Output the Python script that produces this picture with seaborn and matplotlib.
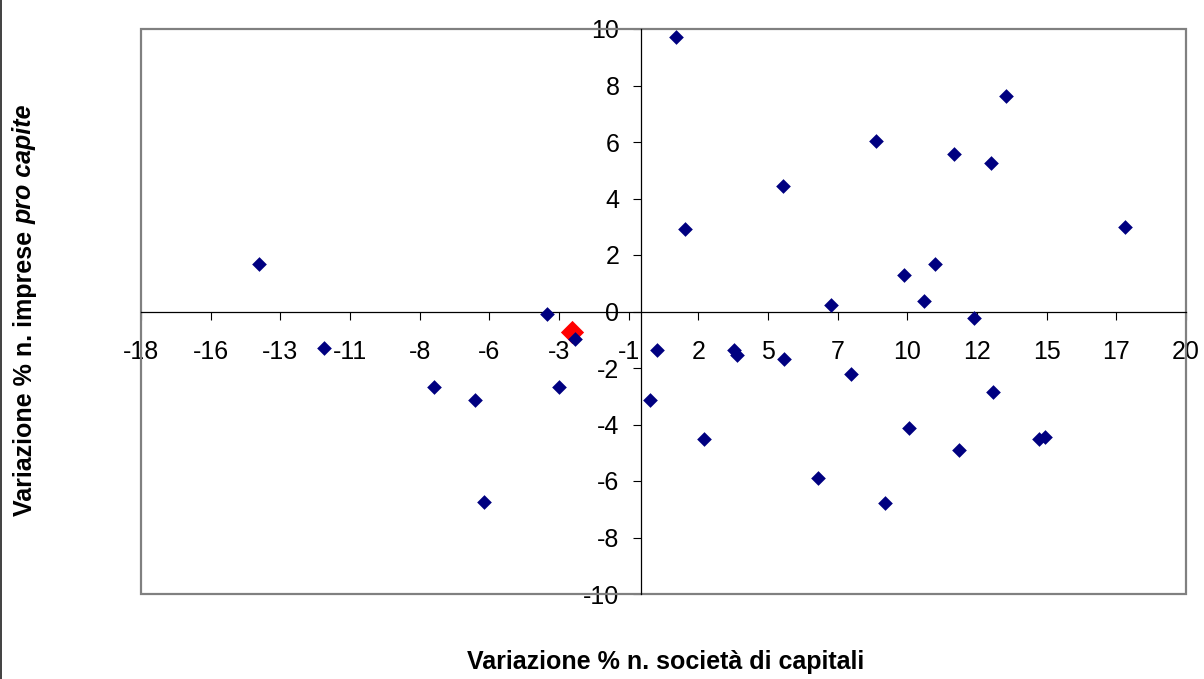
import numpy as np
import pandas as pd
import matplotlib
matplotlib.use("Agg")
import matplotlib.pyplot as plt
import seaborn as sns
from matplotlib.patches import Rectangle
from matplotlib.lines import Line2D

# ---- data ----
x_vals = [-13.88, -11.52, -7.52, -6.03, -5.71, -3.43, -2.40, -2.98, 0.33, 0.57,
          1.27, 1.59, 2.29, 3.38, 3.48, 5.17, 5.20, 6.45, 6.91, 7.63,
          8.56, 8.87, 9.58, 9.76, 10.29, 10.69, 11.39, 11.55, 12.10, 12.73,
          12.81, 13.27, 14.48, 14.69, 17.60]
y_vals = [1.67, -1.30, -2.66, -3.14, -6.73, -0.08, -0.98, -2.67, -3.13, -1.38,
          9.71, 2.91, -4.51, -1.36, -1.55, 4.43, -1.69, -5.88, 0.23, -2.21,
          6.02, -6.79, 1.28, -4.13, 0.38, 1.68, 5.56, -4.89, -0.23, 5.27,
          -2.84, 7.64, -4.51, -4.43, 2.98]
highlight_x = [-2.50]
highlight_y = [-0.72]

x_tick_labels = ["-18", "-16", "-13", "-11", "-8", "-6", "-3", "-1",
                 "2", "5", "7", "10", "12", "15", "17", "20"]
y_tick_values = [-10, -8, -6, -4, -2, 0, 2, 4, 6, 8, 10]

x_title = "Variazione % n. società di capitali"
y_title_main = "Variazione % n. imprese "
y_title_italic = "pro capite"

# ---- style ----
sns.set_theme(style="white")
plt.rcParams['font.family'] = ['Liberation Sans', 'DejaVu Sans']

W, H = 1204, 679
fig = plt.figure(figsize=(W / 100, H / 100), dpi=100)
fig.patch.set_facecolor("white")
ax = fig.add_axes([141 / W, 85 / H, 1045 / W, 565 / H])
ax.set_facecolor("white")

xmin, xmax = -500 / 27.5, 545 / 27.5

df = pd.DataFrame({"x": x_vals, "y": y_vals})
dh = pd.DataFrame({"x": highlight_x, "y": highlight_y})

sns.scatterplot(data=dh, x="x", y="y", marker="D", s=140, color="#FF0000",
                linewidth=0, ax=ax, zorder=3, clip_on=False)
sns.scatterplot(data=df, x="x", y="y", marker="D", s=56, color="#000080",
                linewidth=0, ax=ax, zorder=4, clip_on=False)

ax.set_xlim(xmin, xmax)
ax.set_ylim(-10, 10)
ax.set_xticks(np.linspace(xmin, xmax, len(x_tick_labels)))
ax.set_xticklabels(x_tick_labels)
ax.set_yticks(y_tick_values)
ax.set_yticklabels([str(v) for v in y_tick_values])
ax.set_xlabel("")
ax.set_ylabel("")

for s in ["top", "right"]:
    ax.spines[s].set_visible(False)
for s in ["left", "bottom"]:
    ax.spines[s].set_position(("data", 0))
    ax.spines[s].set_color("black")
    ax.spines[s].set_linewidth(0.9)
    ax.spines[s].set_zorder(2)

ax.add_patch(Rectangle((0, 0), 1, 1, transform=ax.transAxes, fill=False,
                       edgecolor="#808080", lw=1.6, clip_on=False, zorder=1))

ax.tick_params(axis="x", bottom=True, direction="out", length=6, width=0.8,
               color="black", labelsize=18, pad=14.5, labelcolor="black")
ax.tick_params(axis="y", left=True, direction="out", length=6, width=0.8,
               color="black", labelsize=18, pad=9.5, labelcolor="black")

# x title
fig.text(666 / W, 1 - 662 / H, x_title, ha="center", va="center",
         fontsize=18, fontweight="bold", color="black")

# y title (bold + bold italic)
xc = 25 / W
t1 = fig.text(xc, 0, y_title_main, rotation=90, ha="center", va="bottom",
              fontsize=18, fontweight="bold", color="black")
t2 = fig.text(xc, 0, y_title_italic, rotation=90, ha="center", va="bottom",
              fontsize=18, fontweight="bold", fontstyle="italic", color="black")
fig.canvas.draw()
r = fig.canvas.get_renderer()
h1 = t1.get_window_extent(r).height
h2 = t2.get_window_extent(r).height
total = h1 + h2
yc = H - 310
y0 = yc - total / 2
t1.set_position((xc, y0 / H))
t2.set_position((xc, (y0 + h1) / H))

# left border line of the chart object
fig.add_artist(Line2D([0.6 / W, 0.6 / W], [0, 1], transform=fig.transFigure,
                      color="#202020", lw=1.2))

fig.savefig("out.png", dpi=100)
